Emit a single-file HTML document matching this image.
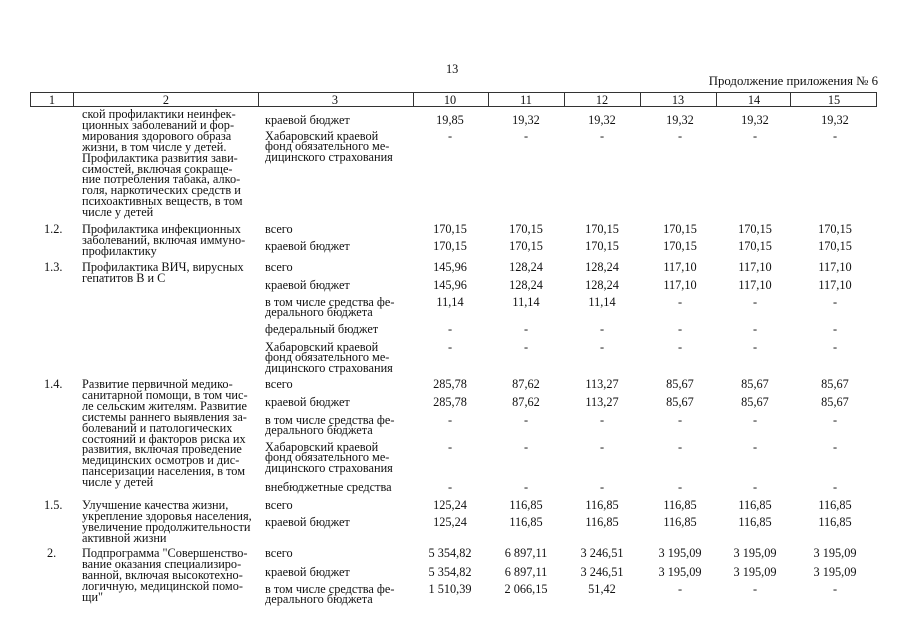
<!DOCTYPE html>
<html><head><meta charset="utf-8"><style>
html,body{margin:0;padding:0;background:#fff;}
body{width:905px;height:640px;position:relative;overflow:hidden;font-family:"Liberation Serif",serif;font-size:12.3px;color:#111;}
.t{position:absolute;line-height:10.4px;white-space:nowrap;}
.t2{position:absolute;line-height:10.9px;white-space:nowrap;}
.c{position:absolute;line-height:10px;white-space:nowrap;text-align:center;width:80px;}
.hl{position:absolute;height:1px;background:#333;}
.vl{position:absolute;width:1px;background:#333;top:92px;height:15px;}
</style></head><body>
<div class="t" style="left:446px;top:64px;">13</div>
<div class="t" style="right:27px;top:76px;font-size:12.8px;">Продолжение приложения № 6</div>
<div class="hl" style="left:30px;width:847px;top:92px;"></div>
<div class="hl" style="left:30px;width:847px;top:106px;"></div>
<div class="vl" style="left:30px"></div><div class="vl" style="left:73px"></div><div class="vl" style="left:258px"></div><div class="vl" style="left:413px"></div><div class="vl" style="left:488px"></div><div class="vl" style="left:564px"></div><div class="vl" style="left:640px"></div><div class="vl" style="left:716px"></div><div class="vl" style="left:790px"></div><div class="vl" style="left:876px"></div>
<div class="c" style="left:12px;top:95px;">1</div>
<div class="c" style="left:126px;top:95px;">2</div>
<div class="c" style="left:295px;top:95px;">3</div>
<div class="c" style="left:410px;top:95px;">10</div>
<div class="c" style="left:486px;top:95px;">11</div>
<div class="c" style="left:562px;top:95px;">12</div>
<div class="c" style="left:638px;top:95px;">13</div>
<div class="c" style="left:714px;top:95px;">14</div>
<div class="c" style="left:794px;top:95px;">15</div>
<div id="rows"></div>
<script>
var h='';
function T(x,y,s){h+='<div class="t" style="left:'+x+'px;top:'+(y-4)+'px">'+s+'</div>';}
function P(x,y,s){h+='<div class="t2" style="left:'+x+'px;top:'+(y-4)+'px">'+s+'</div>';}
var C=[450,526,602,680,755,835];
function V(y,a){for(var i=0;i<6;i++){h+='<div class="c" style="left:'+(C[i]-40)+'px;top:'+(y-4)+'px">'+a[i]+'</div>';}}
var D=['-','-','-','-','-','-'];
P(82,113,'ской профилактики неинфек-<br>ционных заболеваний и фор-<br>мирования здорового образа<br>жизни, в том числе у детей.<br>Профилактика развития зави-<br>симостей, включая сокраще-<br>ние потребления табака, алко-<br>голя, наркотических средств и<br>психоактивных веществ, в том<br>числе у детей');
T(265,119,'краевой бюджет');V(119,['19,85','19,32','19,32','19,32','19,32','19,32']);
T(265,135,'Хабаровский краевой<br>фонд обязательного ме-<br>дицинского страхования');V(135,D);
T(44,228,'1.2.');P(82,228,'Профилактика инфекционных<br>заболеваний, включая иммуно-<br>профилактику');
T(265,228,'всего');V(228,['170,15','170,15','170,15','170,15','170,15','170,15']);
T(265,245,'краевой бюджет');V(245,['170,15','170,15','170,15','170,15','170,15','170,15']);
T(44,266,'1.3.');P(82,266,'Профилактика ВИЧ, вирусных<br>гепатитов В и С');
var b=['145,96','128,24','128,24','117,10','117,10','117,10'];
T(265,266,'всего');V(266,b);T(265,284,'краевой бюджет');V(284,b);
T(265,301,'в том числе средства фе-<br>дерального бюджета');V(301,['11,14','11,14','11,14','-','-','-']);
T(265,328,'федеральный бюджет');V(328,D);
T(265,346,'Хабаровский краевой<br>фонд обязательного ме-<br>дицинского страхования');V(346,D);
T(44,383,'1.4.');P(82,383,'Развитие первичной медико-<br>санитарной помощи, в том чис-<br>ле сельским жителям. Развитие<br>системы раннего выявления за-<br>болеваний и патологических<br>состояний и факторов риска их<br>развития, включая проведение<br>медицинских осмотров и дис-<br>пансеризации населения, в том<br>числе у детей');
var c=['285,78','87,62','113,27','85,67','85,67','85,67'];
T(265,383,'всего');V(383,c);T(265,401,'краевой бюджет');V(401,c);
T(265,419,'в том числе средства фе-<br>дерального бюджета');V(419,D);
T(265,446,'Хабаровский краевой<br>фонд обязательного ме-<br>дицинского страхования');V(446,D);
T(265,486,'внебюджетные средства');V(486,D);
T(44,504,'1.5.');P(82,504,'Улучшение качества жизни,<br>укрепление здоровья населения,<br>увеличение продолжительности<br>активной жизни');
var d=['125,24','116,85','116,85','116,85','116,85','116,85'];
T(265,504,'всего');V(504,d);T(265,521,'краевой бюджет');V(521,d);
T(47,552,'2.');P(82,552,'Подпрограмма "Совершенство-<br>вание оказания специализиро-<br>ванной, включая высокотехно-<br>логичную, медицинской помо-<br>щи"');
var e=['5 354,82','6 897,11','3 246,51','3 195,09','3 195,09','3 195,09'];
T(265,552,'всего');V(552,e);T(265,571,'краевой бюджет');V(571,e);
T(265,588,'в том числе средства фе-<br>дерального бюджета');V(588,['1 510,39','2 066,15','51,42','-','-','-']);
document.getElementById('rows').innerHTML=h;
</script>
</body></html>
